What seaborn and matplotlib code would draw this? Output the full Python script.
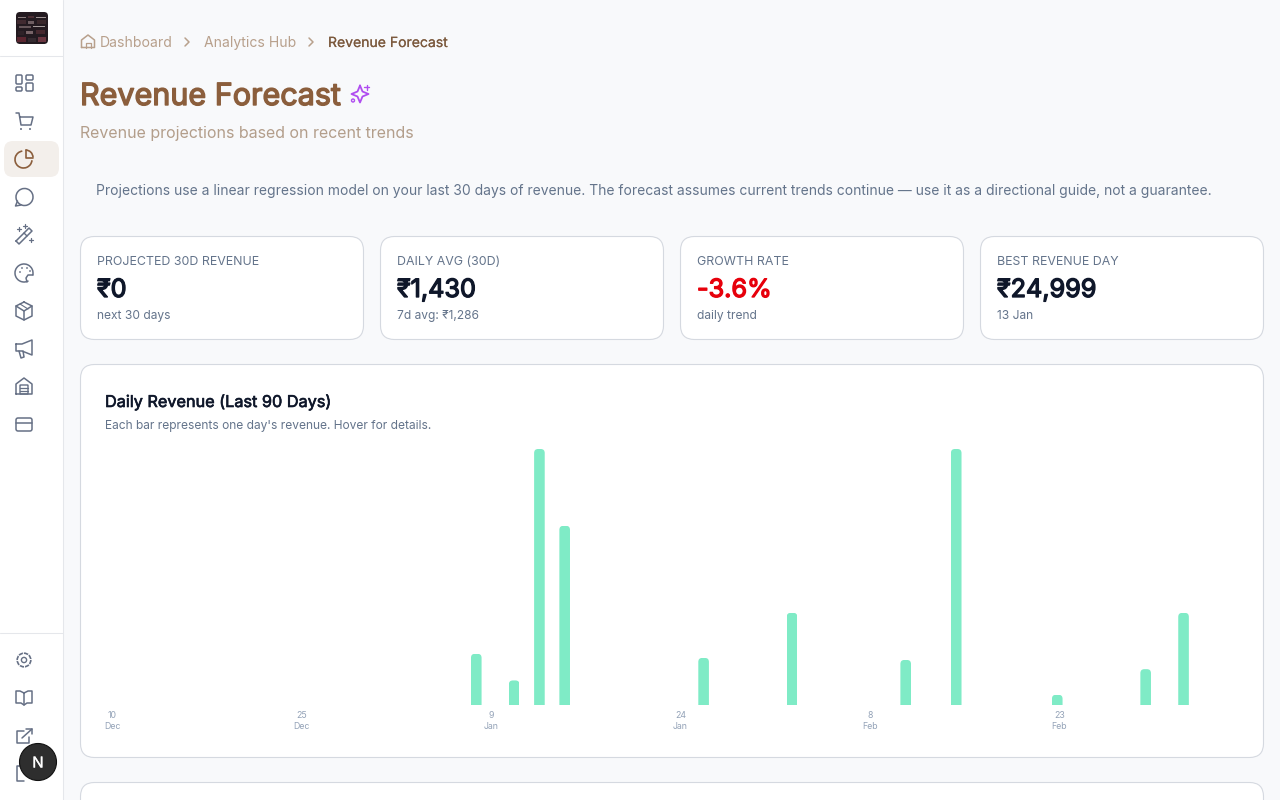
import numpy as np
import pandas as pd
import seaborn as sns
import matplotlib
matplotlib.use("Agg")
import matplotlib.pyplot as plt
from matplotlib.patches import FancyBboxPatch, Rectangle, Circle, Arc
from matplotlib.transforms import IdentityTransform, ScaledTranslation
import matplotlib.patheffects as pe

# ---------- data ----------
day_index = [29, 32, 34, 36, 47, 54, 63, 67, 75, 82, 85]
day_revenue = [4999, 2399, 24999, 17499, 4599, 8999, 4399, 24999, 999, 3499, 8999]
n_days = 90
tick_days = [0, 15, 30, 45, 60, 75]
tick_labels = ["10\nDec", "25\nDec", "9\nJan", "24\nJan", "8\nFeb", "23\nFeb"]
card_labels = ["PROJECTED 30D REVENUE", "DAILY AVG (30D)", "GROWTH RATE", "BEST REVENUE DAY"]
card_values = ["₹0", "₹1,430", "-3.6%", "₹24,999"]
card_subs = ["next 30 days", "7d avg: ₹1,286", "daily trend", "13 Jan"]
card_colors = ["#0F172A", "#0F172A", "#E7000B", "#0F172A"]

sns.set_theme(style="white")
plt.rcParams["font.family"] = ["Inter", "Noto Sans", "DejaVu Sans"]
W, H = 1280, 800
fig = plt.figure(figsize=(W / 100, H / 100), dpi=100, facecolor="#F8F9FB")
ui = fig.add_axes([0, 0, 1, 1], zorder=0)
ui.set_xlim(0, W); ui.set_ylim(H, 0); ui.axis("off")
PX = 0.72


def txt(x, y, s, px, color, bold=0, ha="left", z=5):
    t = ui.text(x, y, s, fontsize=px * PX, color=color, ha=ha, va="baseline", zorder=z)
    if bold:
        t.set_path_effects([pe.withStroke(linewidth=bold, foreground=color)])
    return t


def rbox(x0, y0, x1, y1, r, fc="white", ec="none", lw=1.0, z=1):
    p = FancyBboxPatch((x0 + r, y0 + r), x1 - x0 - 2 * r, y1 - y0 - 2 * r,
                       boxstyle=f"round,pad={r},rounding_size={r}", fc=fc, ec=ec, lw=lw, zorder=z)
    ui.add_patch(p)
    return p


def ln(xs, ys, c, lw=1.1, z=4):
    ui.plot(xs, ys, color=c, lw=lw, solid_capstyle="round", solid_joinstyle="round", zorder=z)


# ---------- sidebar ----------
ui.add_patch(Rectangle((0, 0), 63, H, fc="white", ec="none", zorder=1))
ui.plot([63, 63], [0, H], color="#E5E7EB", lw=0.75, zorder=2)
ui.plot([0, 63], [56, 56], color="#E5E7EB", lw=0.75, zorder=2)
ui.plot([0, 63], [633, 633], color="#E5E7EB", lw=0.75, zorder=2)
rbox(4, 141, 59, 177, 9, fc="#F3EFEB", z=2)
# logo
rbox(16, 12, 48, 44, 4, fc="#231A20", z=3)
for (x, y, w, h, c) in [(18, 17, 8, 1, "#8A7C7C"), (28, 16, 6, 2, "#4A2C32"), (36, 17, 10, 1, "#A09494"),
                        (17, 20, 9, 4, "#402A30"), (28, 21, 6, 3, "#6E5E62"), (37, 20, 9, 4, "#38262A"),
                        (19, 26, 12, 2, "#66565A"), (33, 26, 12, 1, "#A49A9A"), (18, 31, 6, 4, "#2E2228"),
                        (26, 31, 7, 3, "#786468"), (36, 30, 9, 4, "#46282E"),
                        (17, 37, 9, 5, "#5A2630"), (28, 38, 8, 4, "#352A30"), (38, 37, 8, 5, "#6A3640")]:
    ui.add_patch(Rectangle((x, y), w, h, fc=c, ec="none", zorder=4))

IC = "#667085"
ACT = "#8B5E3C"
# grid
rbox(16, 75, 22, 84, 1.2, fc="none", ec=IC, lw=1.1, z=4); rbox(26, 75, 33, 80, 1.2, fc="none", ec=IC, lw=1.1, z=4)
rbox(16, 87, 22, 91, 1.2, fc="none", ec=IC, lw=1.1, z=4); rbox(26, 83, 33, 91, 1.2, fc="none", ec=IC, lw=1.1, z=4)
# cart
ln([16, 19, 21, 31, 33, 20], [113, 113, 125, 125, 117, 117], IC)
ui.add_patch(Circle((21, 129), 1, fc=IC, ec="none", zorder=4)); ui.add_patch(Circle((30, 129), 1, fc=IC, ec="none", zorder=4))
# pie (active)
ui.add_patch(Arc((23.5, 159.5), 17, 17, theta1=5, theta2=262, ec=ACT, lw=1.2, zorder=4))
ln([25.5, 25.5, 33], [150, 157.5, 157.5], ACT, 1.2)
ui.add_patch(Arc((25.5, 157.5), 15, 15, theta1=270, theta2=360, ec=ACT, lw=1.2, zorder=4))
# chat
ui.add_patch(Arc((24.5, 197), 17, 17, theta1=-250, theta2=110, ec=IC, lw=1.1, zorder=4))
ln([17.5, 15.5, 21], [201, 206, 205], IC)
# wand
ln([16, 19, 32, 29, 16], [241, 244, 231, 228, 241], IC, 1.1); ln([24, 27], [233, 236], IC, 1.0)
for sx, sy in [(19, 229), (31, 240), (25, 226)]:
    ln([sx - 2, sx + 2], [sy, sy], IC, 0.9); ln([sx, sx], [sy - 2, sy + 2], IC, 0.9)
# palette
ui.add_patch(Arc((24, 273), 18, 18, theta1=-300, theta2=15, ec=IC, lw=1.1, zorder=4))
ln([33, 28, 26, 27], [275, 275, 278, 282], IC)
for dx, dy in [(20, 272), (22, 268), (27, 268), (30, 271)]:
    ui.add_patch(Circle((dx, dy), 0.9, fc=IC, ec="none", zorder=4))
# box
ln([24, 32, 32, 24, 16, 16, 24], [302, 306, 316, 320, 316, 306, 302], IC)
ln([16, 24, 32], [306, 311, 306], IC); ln([24, 24], [311, 320], IC); ln([20, 28], [304, 309], IC, 0.8)
# megaphone
ln([16, 22, 32, 32, 22, 16, 16], [344, 344, 340, 355, 351, 351, 344], IC)
ln([19, 21, 24, 23], [351, 358, 357, 351], IC)
# warehouse
ln([16, 16, 24, 32, 32, 16], [394, 384, 378, 384, 394, 394], IC)
rbox(20, 385, 28, 394, 0.5, fc="none", ec=IC, lw=1.0, z=4)
ln([20, 28], [388, 388], IC, 0.9); ln([20, 28], [391, 391], IC, 0.9)
# card
rbox(16, 418, 32, 431, 2, fc="none", ec=IC, lw=1.1, z=4); ln([16, 32], [422.5, 422.5], IC)
# gear
ui.add_patch(Circle((24, 660), 2.6, fc="none", ec=IC, lw=1.0, zorder=4))
ui.add_patch(Circle((24, 660), 6.8, fc="none", ec=IC, lw=1.2, ls=(0, (2.6, 0.6)), zorder=4))
# book
ln([24, 20, 16, 16, 21, 24, 27, 32, 32, 28, 24], [693, 691, 691, 703, 703, 705, 703, 703, 691, 691, 693], IC)
ln([24, 24], [693, 705], IC)
# external
ln([24, 17, 17, 29, 29], [731, 731, 743, 743, 737], IC)
ln([22, 32], [738, 729], IC); ln([26, 32, 32], [728.5, 728.5, 734], IC)
# hidden last icon
ln([24, 17, 17, 24], [766, 766, 781, 781], IC)
# next badge
ui.add_patch(Circle((38, 762), 18.5, fc="#2E2E2E", ec="#111111", lw=0.8, zorder=6))
txt(38, 767.5, "N", 15, "white", bold=0.2, ha="center", z=7)

# ---------- header ----------
CRUMB = "#B8A08C"
ln([81.5, 81.5, 88, 94.5, 94.5, 81.5], [47.5, 40, 35, 40, 47.5, 47.5], CRUMB)
ln([85.5, 85.5, 90.5, 90.5], [47.5, 42.5, 42.5, 47.5], CRUMB, 0.9)
txt(100, 47, "Dashboard", 14, CRUMB)
ln([185, 189, 185], [38, 42, 46], CRUMB)
txt(204.5, 47, "Analytics Hub", 14, CRUMB)
ln([309, 313, 309], [38, 42, 46], CRUMB)
txt(328, 47, "Revenue Forecast", 14, "#7C5A3E", bold=0.1)
txt(80, 105, "Revenue Forecast", 30.5, "#8B5E3C", bold=1.0)
SP = "#B04DF0"
ln([360, 362.5, 368.5, 362.5, 360, 357.5, 351.5, 357.5, 360], [85.5, 91.5, 94, 96.5, 102.5, 96.5, 94, 91.5, 85.5], SP, 1.3)
ln([364, 369], [87, 87], SP, 1.0); ln([366.5, 366.5], [84.5, 89.5], SP, 1.0)
ui.add_patch(Circle((353, 100.5), 1.5, fc="#F8F9FB", ec=SP, lw=1.0, zorder=5))
txt(80, 138, "Revenue projections based on recent trends", 15.95, "#B39E8B")
txt(96, 195, "Projections use a linear regression model on your last 30 days of revenue. The forecast assumes current trends continue — use it as a directional guide, not a guarantee.",
    13.9, "#64748B")

# ---------- KPI cards ----------
BORDER = "#D5D9E0"
for i, x in enumerate([80, 380, 680, 980]):
    rbox(x + 0.5, 236.5, x + 283.5, 339.5, 14, fc="white", ec=BORDER, lw=0.8)
    txt(x + 17, 265, card_labels[i], 12.4, "#64748B")
    txt(x + 17, 297, card_values[i], 25.2, card_colors[i], bold=0.95)
    txt(x + 17, 319, card_subs[i], 12, "#64748B")

# ---------- chart card ----------
rbox(80.5, 364.5, 1263.5, 757.5, 14, fc="white", ec=BORDER, lw=0.8)
rbox(80.5, 782.5, 1263.5, 830, 14, fc="white", ec=BORDER, lw=0.8)
txt(105, 407, "Daily Revenue (Last 90 Days)", 16.25, "#0F172A", bold=0.45)
txt(105, 429, "Each bar represents one day's revenue. Hover for details.", 12, "#64748B")

# ---------- bars ----------
px_day = 12.63
left = 110 - px_day / 2
ax = fig.add_axes([left / W, (H - 705) / H, px_day * n_days / W, 256 / H], zorder=3)
ax.patch.set_alpha(0)
df = pd.DataFrame({"day": day_index, "revenue": day_revenue})
full = pd.DataFrame({"day": np.arange(n_days)}).merge(df, on="day", how="left").fillna(0)
sns.barplot(data=full, x="day", y="revenue", color="#7FEBC6", saturation=1, width=0.84,
            order=list(range(n_days)), ax=ax)
ax.set_xlim(-0.5, n_days - 0.5)
ax.set_ylim(0, max(day_revenue))
ax.set_xlabel(""); ax.set_ylabel("")
ax.set_yticks([])
sns.despine(ax=ax, left=True, bottom=True, top=True, right=True)
ax.set_xticks(tick_days)
ax.set_xticklabels(tick_labels, fontsize=8.8 * PX, color="#94A3B8", linespacing=1.3)
ax.tick_params(axis="x", length=0, pad=4.2)
shift = ScaledTranslation(2.2 / 100, 0, fig.dpi_scale_trans)
for lab in ax.get_xticklabels():
    lab.set_transform(lab.get_transform() + shift)
# rounded bar tops, 4 px radius
fig.canvas.draw()
for bar in ax.patches:
    if bar.get_height() <= 0:
        continue
    bb = bar.get_window_extent()
    r = 4
    clip = FancyBboxPatch((bb.x0 + r, bb.y0 - 20), bb.width - 2 * r, bb.height + 20 - r,
                          boxstyle=f"round,pad={r},rounding_size={r}", transform=IdentityTransform())
    bar.set_clip_path(clip)
    bar.set_linewidth(0)

fig.savefig("out.png", dpi=100, facecolor=fig.get_facecolor())
